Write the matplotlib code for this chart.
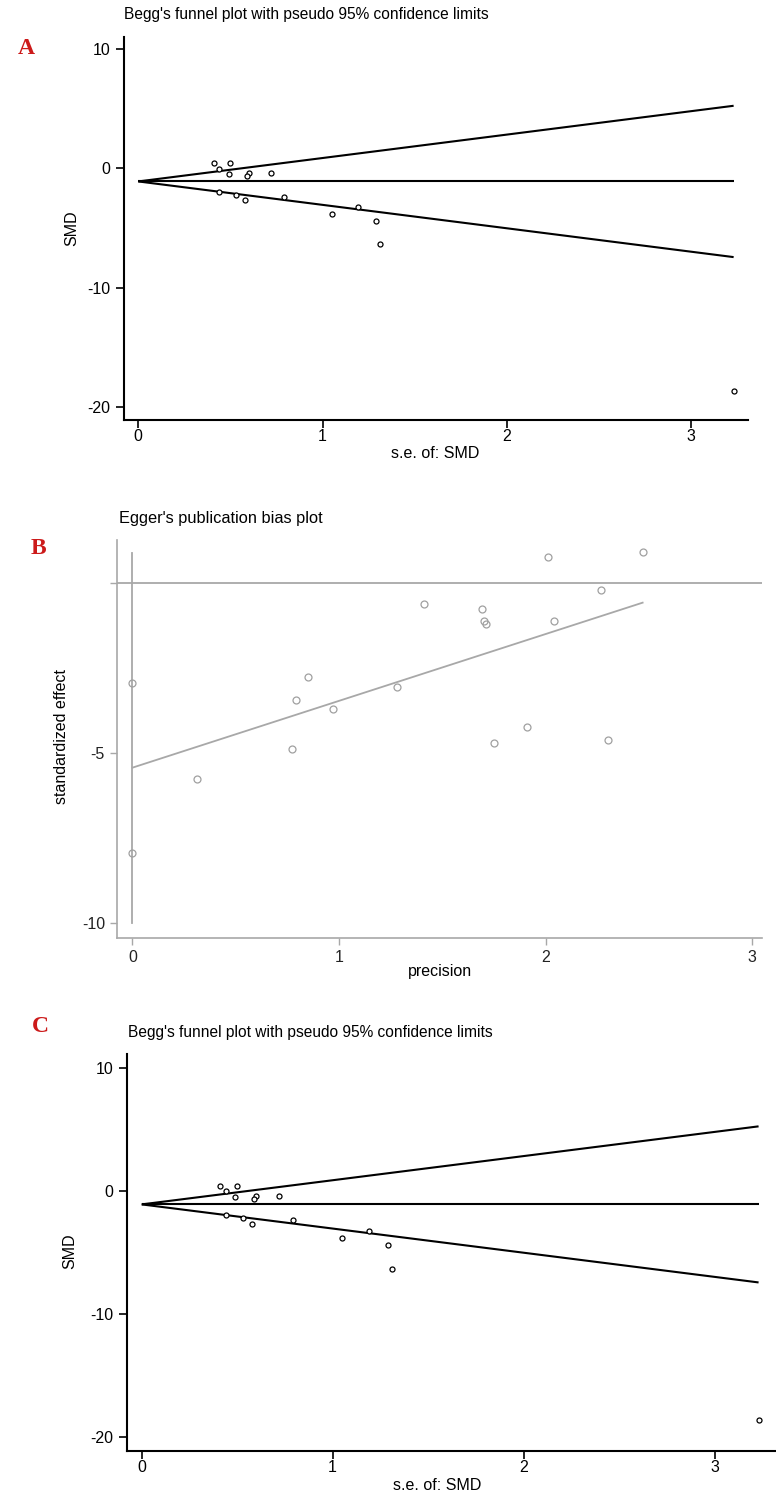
import matplotlib
matplotlib.use("Agg")
import matplotlib.pyplot as plt
import numpy as np

plt.rcParams['font.family'] = ['Liberation Sans', 'DejaVu Sans']
plt.rcParams['axes.unicode_minus'] = False

# ---- Data: Begg's funnel (panels A and C) ----
se = [0.41, 0.50, 0.44, 0.49, 0.60, 0.59, 0.72, 0.44, 0.53, 0.58, 0.79, 1.05, 1.19, 1.29, 1.31, 3.23]
smd = [0.42, 0.42, -0.05, -0.50, -0.42, -0.68, -0.40, -2.00, -2.20, -2.68, -2.38, -3.84, -3.28, -4.40, -6.33, -18.6]
pooled_smd = -1.1
funnel_yticks = [10, 0, -10, -20]
funnel_xticks = [0, 1, 2, 3]

# ---- Data: Egger's plot (panel B) ----
precision = [2.01, 2.47, 2.27, 1.41, 1.69, 1.70, 1.71, 2.04, 0.85, 0.79, 1.28, 0.97,
             0.77, 1.75, 1.91, 2.30, 0.00, 0.31, 0.00]
std_effect = [0.76, 0.89, -0.23, -0.62, -0.77, -1.14, -1.21, -1.13, -2.77, -3.44, -3.05, -3.71,
              -4.89, -4.72, -4.24, -4.62, -2.95, -5.75, -7.93]
egger_intercept = -5.43
egger_slope = 1.96
egger_ci = [0.86, -10.0]
egger_yticks = [0, -5, -10]
egger_yticklabels = ['', '-5', '-10']
egger_xticks = [0, 1, 2, 3]

W, H = 776, 1499
fig = plt.figure(figsize=(W / 100, H / 100), dpi=100)
FS = 11.5


def box(l, t, r, b):
    return [l / W, 1 - b / H, (r - l) / W, (b - t) / H]


def ftext(x, y, s, **kw):
    return fig.text(x / W, 1 - y / H, s, **kw)


def funnel(ax, xlim, ylim):
    ax.set_xlim(*xlim)
    ax.set_ylim(*ylim)
    smax = max(se)
    s = np.array([0.0, smax])
    ax.plot(s, pooled_smd + 1.96 * s, color='black', lw=1.5, solid_capstyle='butt')
    ax.plot(s, pooled_smd - 1.96 * s, color='black', lw=1.5, solid_capstyle='butt')
    ax.plot(s, [pooled_smd, pooled_smd], color='black', lw=1.5, solid_capstyle='butt')
    ax.plot(se, smd, linestyle='none', marker='o', markersize=3.6,
            markerfacecolor='white', markeredgecolor='black', markeredgewidth=0.9)
    for sp in ['top', 'right']:
        ax.spines[sp].set_visible(False)
    for sp in ['left', 'bottom']:
        ax.spines[sp].set_linewidth(1.5)
        ax.spines[sp].set_color('black')
    ax.set_yticks(funnel_yticks)
    ax.set_xticks(funnel_xticks)
    ax.tick_params(axis='both', direction='out', length=6, width=1.2, labelsize=FS,
                   colors='black')
    ax.tick_params(axis='x', pad=0.5)
    ax.tick_params(axis='y', pad=4)


# Panel A
axA = fig.add_axes(box(124, 36.7, 748, 420))
funnel(axA, (-0.0776, 3.308), (-21.06, 11.01))
ftext(124, 15, "Begg's funnel plot with pseudo 95% confidence limits",
      fontsize=11.2, ha='left', va='center')
ftext(72, 228, 'SMD', fontsize=FS, rotation=90, ha='center', va='center')
ftext(435, 453, 's.e. of: SMD', fontsize=FS, ha='center', va='center')

# Panel B
axB = fig.add_axes(box(116.7, 540, 762, 937.7))
gray = '#a8a8a8'
axB.set_xlim(-0.0765, 3.048)
axB.set_ylim(-10.42, 1.25)
axB.axhline(0, color=gray, lw=1.3)
axB.plot([0, 0], egger_ci, color=gray, lw=1.3)
px = np.array([0.0, max(precision)])
axB.plot(px, egger_intercept + egger_slope * px, color=gray, lw=1.3)
axB.plot(precision, std_effect, linestyle='none', marker='o', markersize=5,
         markerfacecolor='none', markeredgecolor='#a0a0a0', markeredgewidth=0.9)
for sp in ['top', 'right']:
    axB.spines[sp].set_visible(False)
for sp in ['left', 'bottom']:
    axB.spines[sp].set_color(gray)
    axB.spines[sp].set_linewidth(1.2)
axB.set_yticks(egger_yticks)
axB.set_yticklabels(egger_yticklabels)
axB.set_xticks(egger_xticks)
axB.tick_params(axis='both', direction='out', length=5, width=1, color=gray,
                labelsize=FS, labelcolor='#222222')
axB.tick_params(axis='x', pad=4)
ftext(118.5, 519, "Egger's publication bias plot", fontsize=11.8, ha='left', va='center')
ftext(61, 737, 'standardized effect', fontsize=FS, rotation=90, ha='center', va='center')
ftext(440, 971, 'precision', fontsize=FS, ha='center', va='center')

# Panel C
axC = fig.add_axes(box(127, 1054, 775, 1450.7))
funnel(axC, (-0.077, 3.316), (-21.08, 11.1))
ftext(128, 1032, "Begg's funnel plot with pseudo 95% confidence limits",
      fontsize=11.2, ha='left', va='center')
ftext(70, 1251, 'SMD', fontsize=FS, rotation=90, ha='center', va='center')
ftext(437, 1486, 's.e. of: SMD', fontsize=FS, ha='center', va='center')

# Panel letters
for lab, x, y in [('A', 26, 49), ('B', 38, 548), ('C', 40, 1027)]:
    ftext(x, y, lab, fontsize=17, fontweight='bold', color='#cc1a1a',
          family='Liberation Serif', ha='center', va='center')

fig.savefig('out.png', dpi=100, facecolor='white')
